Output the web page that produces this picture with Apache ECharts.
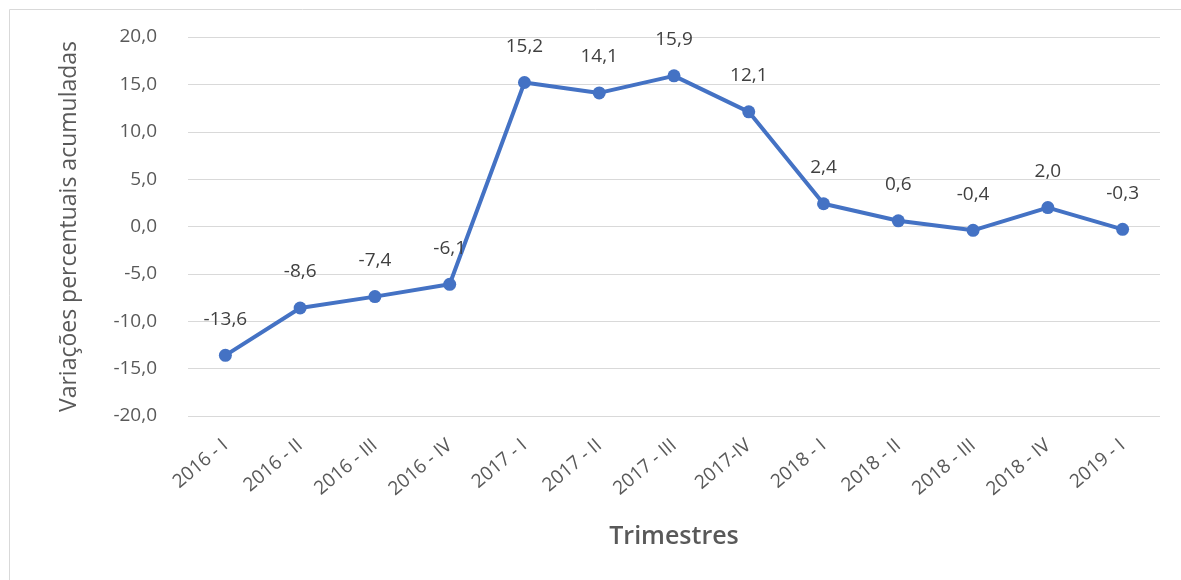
<!DOCTYPE html>
<html><head><meta charset="utf-8">
<script src="https://cdn.jsdelivr.net/npm/echarts@6/dist/echarts.min.js"></script>
<style>html,body{margin:0;padding:0;background:#fff}#c{width:1181px;height:580px}</style>
</head><body><div id="c"></div>
<script>
const categories = ['2016 - I','2016 - II','2016 - III','2016 - IV','2017 - I','2017 - II','2017 - III','2017-IV','2018 - I','2018 - II','2018 - III','2018 - IV','2019 - I'];
const values = [-13.6,-8.6,-7.4,-6.1,15.2,14.1,15.9,12.1,2.4,0.6,-0.4,2.0,-0.3];
const yTicks = {min:-20, max:20, interval:5};
const fmt = v => v.toFixed(1).replace('.', ',');
const font = '"Open Sans", "Noto Sans", sans-serif';
const chart = echarts.init(document.getElementById('c'));
chart.setOption({
  animation:false,
  graphic:[{type:'rect', shape:{x:9.5,y:9.5,width:1200,height:600}, style:{fill:'none', stroke:'#d9d9d9', lineWidth:1}, silent:true}],
  grid:{left:188, right:21, top:37, bottom:164},
  xAxis:{type:'category', data:categories, boundaryGap:true,
    axisLine:{show:false}, axisTick:{show:false},
    axisLabel:{rotate:40, margin:27, fontSize:19, color:'#595959', fontFamily:font, interval:0},
    name:'Trimestres', nameLocation:'middle', nameGap:108,
    nameTextStyle:{fontSize:25, color:'#595959', fontWeight:600, fontFamily:font}},
  yAxis:{type:'value', min:yTicks.min, max:yTicks.max, interval:yTicks.interval,
    axisLine:{show:false}, axisTick:{show:false},
    splitLine:{lineStyle:{color:'#d9d9d9', width:1}},
    axisLabel:{formatter:fmt, margin:31, fontSize:19, color:'#595959', fontFamily:font},
    name:'Variações percentuais acumuladas', nameLocation:'middle', nameGap:107,
    nameTextStyle:{fontSize:23, color:'#595959', fontFamily:font}},
  series:[{type:'line', data:values, symbol:'circle', symbolSize:13,
    lineStyle:{color:'#4472C4', width:4}, itemStyle:{color:'#4472C4'},
    label:{show:true, position:'top', distance:20, formatter:p=>fmt(p.value), fontSize:19, color:'#404040', fontFamily:font}}]
});
</script></body></html>
